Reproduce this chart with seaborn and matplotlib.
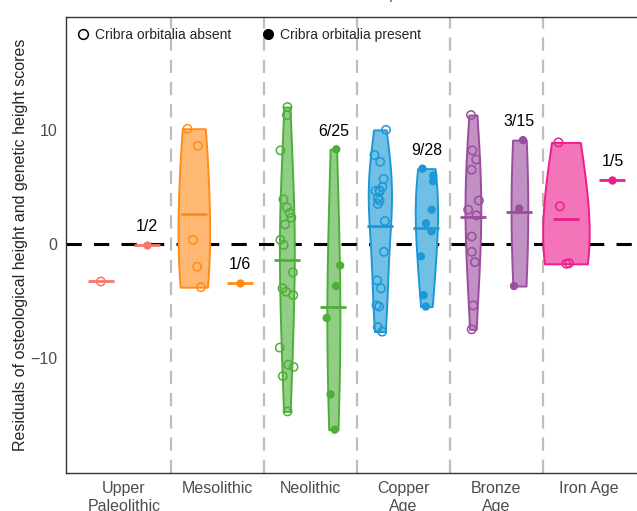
import numpy as np
import pandas as pd
import matplotlib.pyplot as plt
import seaborn as sns
from matplotlib.lines import Line2D
from matplotlib.colors import to_rgb

sns.set_style("white")
plt.rcParams['font.family'] = ['Liberation Sans', 'DejaVu Sans']

periods = ["Upper Paleolithic", "Mesolithic", "Neolithic", "Copper Age", "Bronze Age", "Iron Age"]
tick_labels = ["Upper\nPaleolithic", "Mesolithic", "Neolithic", "Copper\nAge", "Bronze\nAge", "Iron Age"]
colors = ["#F8766D", "#FF8C1A", "#4DAF3A", "#1B98D5", "#9B4D9E", "#EC1E8E"]
ratio_labels = ["1/2", "1/6", "6/25", "9/28", "3/15", "1/5"]

# residuals, cribra orbitalia absent
absent_vals = [
    [-3.3],
    [10.1, 8.6, 0.35, -2.0, -3.8],
    [12.0, 11.3, 8.2, 3.9, 3.2, 2.7, 2.3, 1.7, 0.35, -0.1, -2.5, -3.9, -4.2, -4.5,
     -9.1, -10.6, -10.8, -11.6, -14.7],
    [10.0, 7.8, 7.2, 5.7, 5.0, 4.7, 4.65, 4.6, 4.0, 3.8, 3.5, 2.0, -0.7, -3.2, -3.9,
     -5.4, -5.5, -7.3, -7.7],
    [11.3, 8.2, 7.4, 6.5, 3.8, 3.0, 2.5, 0.65, -0.7, -1.6, -5.4, -7.5],
    [8.9, 3.3, -1.7, -1.75],
]
# residuals, cribra orbitalia present
present_vals = [
    [-0.1],
    [-3.4],
    [8.3, -1.9, -3.7, -6.5, -13.2, -16.3],
    [6.6, 6.0, 5.5, 3.0, 1.8, 1.1, -1.1, -4.5, -5.5],
    [9.1, 3.1, -3.7],
    [5.6],
]

# drawn violin widths (x units), as they appear in the figure
violin_w = {"absent": [0.0, 0.34, 0.16, 0.25, 0.17, 0.5],
            "present": [0.0, 0.0, 0.14, 0.24, 0.18, 0.0]}

rows = []
for i, p in enumerate(periods):
    for v in absent_vals[i]:
        rows.append((p, "absent", i - 0.25, v))
    for v in present_vals[i]:
        rows.append((p, "present", i + 0.25, v))
df = pd.DataFrame(rows, columns=["period", "status", "pos", "value"])
pal = dict(zip(periods, colors))

fig = plt.figure(figsize=(6.37, 5.11), dpi=100)
ax = fig.add_axes([66 / 637, 38 / 511, 579 / 637, 456 / 511])

# separators and zero line
for b in np.arange(0.5, len(periods) - 0.5):
    ax.axvline(b, color="#BEBEBE", lw=1.6, dashes=(6, 4), zorder=0.5)
ax.axhline(0, color="black", lw=2.2, dashes=(5, 4), zorder=0.6)

# violins (groups with more than one observation)
for i, p in enumerate(periods):
    c = np.array(to_rgb(colors[i]))
    fill = tuple(0.62 * c + 0.38)
    for status in ["absent", "present"]:
        sub = df[(df.period == p) & (df.status == status)]
        if len(sub) < 2:
            continue
        sns.violinplot(data=sub, x="pos", y="value", native_scale=True,
                       color=fill, linecolor=colors[i], saturation=1,
                       density_norm="width", width=violin_w[status][i], cut=0,
                       inner=None, linewidth=1.4, bw_adjust=1.4, ax=ax)
for coll in ax.collections:
    coll.set_zorder(1)

np.random.seed(7)
n1 = len(ax.collections)
sns.stripplot(data=df[df.status == "absent"], x="pos", y="value", hue="period",
              hue_order=periods, palette=pal, native_scale=True, jitter=0.08,
              size=6, linewidth=1.1, legend=False, ax=ax)
for coll in ax.collections[n1:]:
    fc = coll.get_facecolors()
    coll.set_edgecolors(fc)
    coll.set_facecolors("none")
    coll.set_zorder(3)
n2 = len(ax.collections)
sns.stripplot(data=df[df.status == "present"], x="pos", y="value", hue="period",
              hue_order=periods, palette=pal, native_scale=True, jitter=0.08,
              size=6, linewidth=0, legend=False, ax=ax)
for coll in ax.collections[n2:]:
    coll.set_zorder(3)

# group means
sns.pointplot(data=df, x="pos", y="value", hue="period", hue_order=periods,
              palette=pal, native_scale=True, estimator="mean", errorbar=None,
              markers="_", linestyles="none", markersize=19, markeredgewidth=2,
              legend=False, ax=ax)

# prevalence labels
for i, lab in enumerate(ratio_labels):
    ax.text(i + 0.25, max(present_vals[i]) + 1.6, lab, ha="center", va="center",
            fontsize=11.5, color="black")

ax.set_xlim(-0.624, 5.6)
ax.set_ylim(-20.1, 19.9)
ax.set_xticks(range(len(periods)))
ax.set_xticklabels(tick_labels)
ax.set_yticks([-10, 0, 10])
ax.set_yticklabels(["\u221210", "0", "10"])
ax.set_xlabel("")
ax.set_ylabel("Residuals of osteological height and genetic height scores",
              fontsize=11.5, labelpad=2)
ax.tick_params(axis="both", length=4, width=1, color="#333333",
               labelcolor="#4D4D4D", labelsize=11.5, pad=2)
for s in ax.spines.values():
    s.set_color("#333333")
    s.set_linewidth(1.0)

handles = [
    Line2D([], [], marker="o", ls="none", markerfacecolor="none",
           markeredgecolor="black", markersize=7, markeredgewidth=1.1),
    Line2D([], [], marker="o", ls="none", color="black", markersize=7),
]
ax.legend(handles, ["Cribra orbitalia absent", "Cribra orbitalia present"],
          loc="upper left", bbox_to_anchor=(0.0, 1.0), ncol=2, frameon=False,
          fontsize=10, handlelength=0.8, handletextpad=0.5, columnspacing=2.2,
          borderaxespad=0.4)

# title sits almost entirely above the visible area
fig.text(330 / 637, 1.0 + 1.5 / 511, "Residuals and cultural period", ha="center",
         va="baseline", fontsize=11.5, color="#555555")

fig.savefig("out.png", dpi=100)
